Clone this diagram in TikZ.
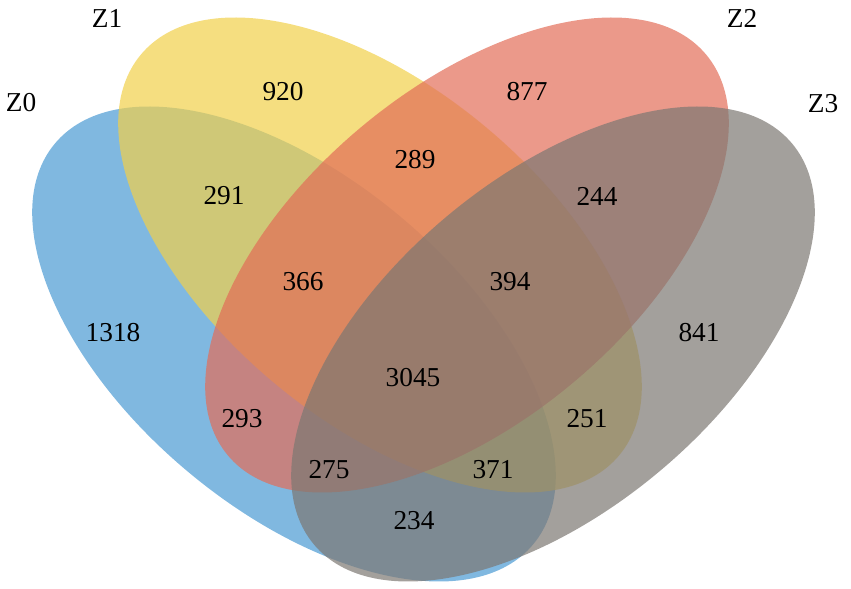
\documentclass[tikz,border=0pt]{standalone}
\usepackage{fontspec}
\setmainfont{Liberation Serif}
\begin{document}
\begin{tikzpicture}[x=0.75pt,y=0.75pt,
  setfill/.style={fill=#1,fill opacity=0.7,draw=none},
  lbl/.style={font=\fontsize{20.5}{24}\selectfont,inner sep=0pt},
  num/.style={font=\fontsize{20.5}{24}\selectfont,inner sep=0pt}]
\definecolor{cZa}{RGB}{74,154,211}
\definecolor{cZb}{RGB}{241,208,74}
\definecolor{cZc}{RGB}{226,109,88}
\definecolor{cZd}{RGB}{124,119,114}
\useasboundingbox (0,0) rectangle (851,589);
\fill[setfill=cZa,rotate around={-40:(294,245)}] (294,245) ellipse (312 and 166);
\fill[setfill=cZb,rotate around={-40:(380,334)}] (380,334) ellipse (312 and 166);
\fill[setfill=cZc,rotate around={40:(467,334)}] (467,334) ellipse (312 and 166);
\fill[setfill=cZd,rotate around={40:(553,245)}] (553,245) ellipse (312 and 166);
\node[lbl] (z0) at (21,486) {Z0};
\node[lbl] (z1) at (107,571) {Z1};
\node[lbl] (z2) at (742,571) {Z2};
\node[lbl] (z3) at (823,485) {Z3};
\node[num] (n920) at (283,497) {920};
\node[num] (n289) at (415,429) {289};
\node[num] (n877) at (527,497) {877};
\node[num] (n291) at (224,393) {291};
\node[num] (n244) at (597,393) {244};
\node[num] (n366) at (303,307) {366};
\node[num] (n394) at (510,307) {394};
\node[num] (n1318) at (113,256) {1318};
\node[num] (n841) at (699,256) {841};
\node[num] (n3045) at (413,211) {3045};
\node[num] (n293) at (242,170) {293};
\node[num] (n251) at (587,170) {251};
\node[num] (n275) at (329,119) {275};
\node[num] (n371) at (493,119) {371};
\node[num] (n234) at (414,68) {234};
\end{tikzpicture}
\end{document}
